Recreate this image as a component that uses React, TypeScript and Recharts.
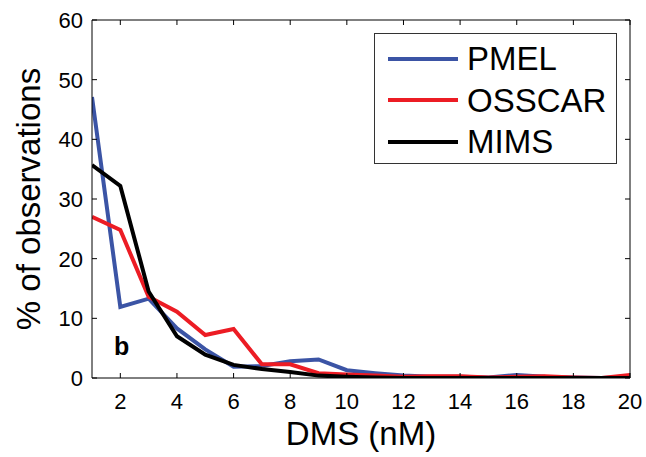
import React from 'react';
import { LineChart, Line, XAxis, YAxis } from 'recharts';

const dms = [1, 2, 3, 4, 5, 6, 7, 8, 9, 10, 11, 12, 13, 14, 15, 16, 17, 18, 19, 20];
const pmel = [47.1, 11.9, 13.3, 8.3, 4.8, 1.9, 2.0, 2.8, 3.1, 1.3, 0.8, 0.4, 0.2, 0.2, 0.1, 0.5, 0.2, 0.1, 0, 0.2];
const osscar = [27.0, 24.8, 13.6, 11.1, 7.2, 8.2, 2.3, 2.3, 0.8, 0.6, 0.4, 0.2, 0.3, 0.3, 0.1, 0.2, 0.3, 0.1, 0, 0.5];
const mims = [35.7, 32.2, 14.5, 7.0, 3.9, 2.2, 1.5, 1.0, 0.4, 0.2, 0.1, 0, 0, 0, 0, 0, 0, 0, 0, 0];
const xTicks = [2, 4, 6, 8, 10, 12, 14, 16, 18, 20];
const yTicks = [0, 10, 20, 30, 40, 50, 60];

const seriesList = [
  { key: 'pmel', name: 'PMEL', color: '#3b54a5' },
  { key: 'osscar', name: 'OSSCAR', color: '#ec1c24' },
  { key: 'mims', name: 'MIMS', color: '#000000' },
];

const data = dms.map((x, i) => ({ x, pmel: pmel[i], osscar: osscar[i], mims: mims[i] }));

const FONT = '"Liberation Sans", Arial, sans-serif';

// matlab style ticks: short lines pointing into the plot box
const BottomTick = ({ x, y, payload }: any) => (
  <g>
    <line x1={x} x2={x} y1={y} y2={y - 5} stroke="#000" />
    <text x={x} y={y + 31} textAnchor="middle" fontSize={22} fontFamily={FONT} fill="#000">
      {payload.value}
    </text>
  </g>
);

const TopTick = ({ x, y }: any) => <line x1={x} x2={x} y1={y} y2={y + 5} stroke="#000" />;

const LeftTick = ({ x, y, payload }: any) => (
  <g>
    <line x1={x} x2={x + 5} y1={y} y2={y} stroke="#000" />
    <text x={x - 9} y={y + 8} textAnchor="end" fontSize={22} fontFamily={FONT} fill="#000">
      {payload.value}
    </text>
  </g>
);

const RightTick = ({ x, y }: any) => <line x1={x} x2={x - 5} y1={y} y2={y} stroke="#000" />;

const LegendBox = () => (
  <div
    style={{
      position: 'absolute',
      left: 374,
      top: 33,
      border: '1px solid #333',
      background: '#fff',
      width: 243,
      height: 131,
      boxSizing: 'border-box',
      paddingTop: 4,
    }}
  >
    {seriesList.map((s) => (
      <div key={s.key} style={{ display: 'flex', alignItems: 'center', height: 41.5 }}>
        <div style={{ width: 70, height: 4, background: s.color, marginLeft: 13, marginRight: 9 }} />
        <span style={{ fontSize: 33, fontFamily: FONT, color: '#000', lineHeight: 1 }}>{s.name}</span>
      </div>
    ))}
  </div>
);

export default function App() {
  return (
    <div style={{ position: 'relative', width: 646, height: 457, background: '#fff' }}>
      <style>{'body{margin:0}'}</style>
      <LineChart width={646} height={457} data={data} margin={{ top: 10, right: 6, bottom: 39, left: 32 }}>
        <XAxis
          dataKey="x"
          type="number"
          domain={[1, 20]}
          ticks={xTicks}
          allowDataOverflow
          height={40}
          tickSize={0}
          tickMargin={0}
          tickLine={false}
          tick={<BottomTick />}
          axisLine={{ stroke: '#000' }}
          interval={0}
        />
        <XAxis
          xAxisId="top"
          orientation="top"
          dataKey="x"
          type="number"
          domain={[1, 20]}
          ticks={xTicks}
          allowDataOverflow
          height={10}
          tickSize={0}
          tickMargin={0}
          tickLine={false}
          tick={<TopTick />}
          axisLine={{ stroke: '#000' }}
          interval={0}
        />
        <YAxis
          type="number"
          domain={[0, 60]}
          ticks={yTicks}
          allowDataOverflow
          width={60}
          tickSize={0}
          tickMargin={0}
          tickLine={false}
          tick={<LeftTick />}
          axisLine={{ stroke: '#000' }}
          interval={0}
        />
        <YAxis
          yAxisId="right"
          orientation="right"
          type="number"
          domain={[0, 60]}
          ticks={yTicks}
          allowDataOverflow
          width={10}
          tickSize={0}
          tickMargin={0}
          tickLine={false}
          tick={<RightTick />}
          axisLine={{ stroke: '#000' }}
          interval={0}
        />
        {seriesList.map((s) => (
          <Line
            key={s.key}
            dataKey={s.key}
            name={s.name}
            stroke={s.color}
            strokeWidth={4}
            dot={false}
            activeDot={false}
            type="linear"
            isAnimationActive={false}
          />
        ))}
      </LineChart>
      <LegendBox />
      <div
        style={{
          position: 'absolute',
          left: 114,
          top: 334,
          fontSize: 25,
          fontWeight: 'bold',
          fontFamily: FONT,
          lineHeight: 1,
        }}
      >
        b
      </div>
      <div
        style={{
          position: 'absolute',
          left: 0,
          width: 722,
          top: 417,
          textAlign: 'center',
          fontSize: 33,
          fontFamily: FONT,
          lineHeight: 1,
        }}
      >
        DMS (nM)
      </div>
      <div
        style={{
          position: 'absolute',
          left: 28,
          top: 199,
          transform: 'translate(-50%, -50%) rotate(-90deg)',
          whiteSpace: 'nowrap',
          fontSize: 33,
          fontFamily: FONT,
          lineHeight: 1,
        }}
      >
        % of observations
      </div>
    </div>
  );
}
